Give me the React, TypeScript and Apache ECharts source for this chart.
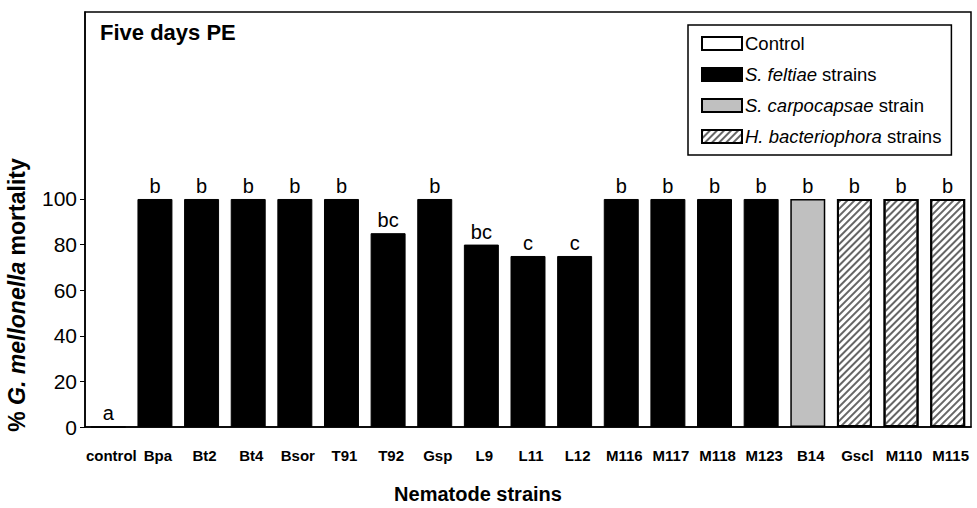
import React, { useEffect, useRef } from "react";
import * as echarts from "echarts";

const categories = ["control", "Bpa", "Bt2", "Bt4", "Bsor", "T91", "T92", "Gsp", "L9", "L11", "L12", "M116", "M117", "M118", "M123", "B14", "Gscl", "M110", "M115"];
const mortality = [0, 100, 100, 100, 100, 100, 85, 100, 80, 75, 75, 100, 100, 100, 100, 100, 100, 100, 100];
const letters = ["a", "b", "b", "b", "b", "b", "bc", "b", "bc", "c", "c", "b", "b", "b", "b", "b", "b", "b", "b"];
const groupOf = ["Control", "S. feltiae strains", "S. feltiae strains", "S. feltiae strains", "S. feltiae strains", "S. feltiae strains", "S. feltiae strains", "S. feltiae strains", "S. feltiae strains", "S. feltiae strains", "S. feltiae strains", "S. feltiae strains", "S. feltiae strains", "S. feltiae strains", "S. feltiae strains", "S. carpocapsae strain", "H. bacteriophora strains", "H. bacteriophora strains", "H. bacteriophora strains"];
const groups = ["Control", "S. feltiae strains", "S. carpocapsae strain", "H. bacteriophora strains"];
const yTicks = [0, 20, 40, 60, 80, 100];

const FONT = "Liberation Sans, Arial, sans-serif";

export default function App() {
  const ref = useRef<HTMLDivElement>(null);
  useEffect(() => {
    if (!ref.current) return;
    const chart = echarts.init(ref.current, null, { renderer: "svg" });

    const styles: Record<string, any> = {
      "Control": { color: "#ffffff", borderColor: "#000", borderWidth: 1.5 },
      "S. feltiae strains": { color: "#000000", borderColor: "#000", borderWidth: 1 },
      "S. carpocapsae strain": { color: "#c0c0c0", borderColor: "#000", borderWidth: 1.5 },
      "H. bacteriophora strains": {
        color: "#ffffff",
        borderColor: "#000",
        borderWidth: 2,
        decal: {
          symbol: "rect",
          symbolSize: 1,
          dashArrayX: [1, 0],
          dashArrayY: [1.2, 2.3],
          rotation: -Math.PI / 4,
          color: "#666666",
        },
      },
    };

    const series = groups.map((g) => ({
      name: g,
      type: "bar",
      barWidth: "75%",
      barGap: "-100%",
      itemStyle: styles[g],
      label: {
        show: true,
        position: "top",
        distance: 3,
        color: "#000",
        fontSize: 20,
        fontFamily: FONT,
        formatter: (p: any) => letters[p.dataIndex],
      },
      data: mortality.map((v, i) => (groupOf[i] === g ? v : "-")),
    }));

    const legendNames: Record<string, string> = {
      "Control": "Control",
      "S. feltiae strains": "{i|S. feltiae} strains",
      "S. carpocapsae strain": "{i|S. carpocapsae} strain",
      "H. bacteriophora strains": "{i|H. bacteriophora} strains",
    };

    chart.setOption({
      animation: false,
      backgroundColor: "#ffffff",
      textStyle: { fontFamily: FONT },
      grid: {
        left: 85,
        right: 6,
        top: 12,
        bottom: 81,
        show: true,
        borderColor: "#000",
        borderWidth: 1.5,
        backgroundColor: "transparent",
      },
      legend: {
        data: groups,
        orient: "vertical",
        left: 688,
        top: 25,
        itemWidth: 40,
        itemHeight: 13,
        itemGap: 12,
        padding: [9, 10, 9, 13],
        borderColor: "#000",
        borderWidth: 1.5,
        icon: "rect",
        selectedMode: false,
        formatter: (name: string) => legendNames[name],
        textStyle: {
          fontSize: 18.5,
          color: "#000",
          fontFamily: FONT,
          padding: [0, 0, 0, -2],
          rich: {
            i: { fontSize: 18.5, fontStyle: "italic", color: "#000", fontFamily: FONT },
          },
        },
      },
      xAxis: {
        type: "category",
        data: categories,
        axisLine: { show: true, lineStyle: { color: "#000", width: 1.5 } },
        axisTick: { show: false },
        axisLabel: {
          color: "#000",
          fontSize: 15,
          fontWeight: "bold",
          fontFamily: FONT,
          margin: 21,
          interval: 0,
          padding: [0, 0, 0, 6],
        },
      },
      yAxis: {
        type: "value",
        min: 0,
        max: 182,
        interval: 20,
        splitLine: { show: false },
        axisLine: { show: true, lineStyle: { color: "#000", width: 1.5 } },
        axisTick: { show: true, length: 5, customValues: yTicks, lineStyle: { color: "#000" } },
        axisLabel: {
          customValues: yTicks,
          color: "#000",
          fontSize: 21,
          fontFamily: FONT,
          margin: 8,
        },
      },
      graphic: [
        {
          type: "text",
          left: 100,
          top: 21,
          style: {
            text: "Five days PE",
            fontSize: 22,
            fontWeight: "bold",
            fill: "#000",
            fontFamily: FONT,
          },
        },
        {
          type: "text",
          x: 17,
          y: 295,
          rotation: Math.PI / 2,
          style: {
            text: "{b|% }{bi|G. mellonella}{b| mortality}",
            align: "center",
            verticalAlign: "middle",
            rich: {
              b: { fontSize: 23, fontWeight: "bold", fill: "#000", fontFamily: FONT },
              bi: { fontSize: 23, fontWeight: "bold", fontStyle: "italic", fill: "#000", fontFamily: FONT },
            },
          },
        },
        {
          type: "text",
          x: 478,
          y: 494,
          style: {
            text: "Nematode strains",
            align: "center",
            verticalAlign: "middle",
            fontSize: 20,
            fontWeight: "bold",
            fill: "#000",
            fontFamily: FONT,
          },
        },
      ],
      series,
    });

    return () => chart.dispose();
  }, []);

  return (
    <div
      ref={ref}
      style={{ position: "absolute", left: 0, top: 0, width: 977, height: 508 }}
    />
  );
}
